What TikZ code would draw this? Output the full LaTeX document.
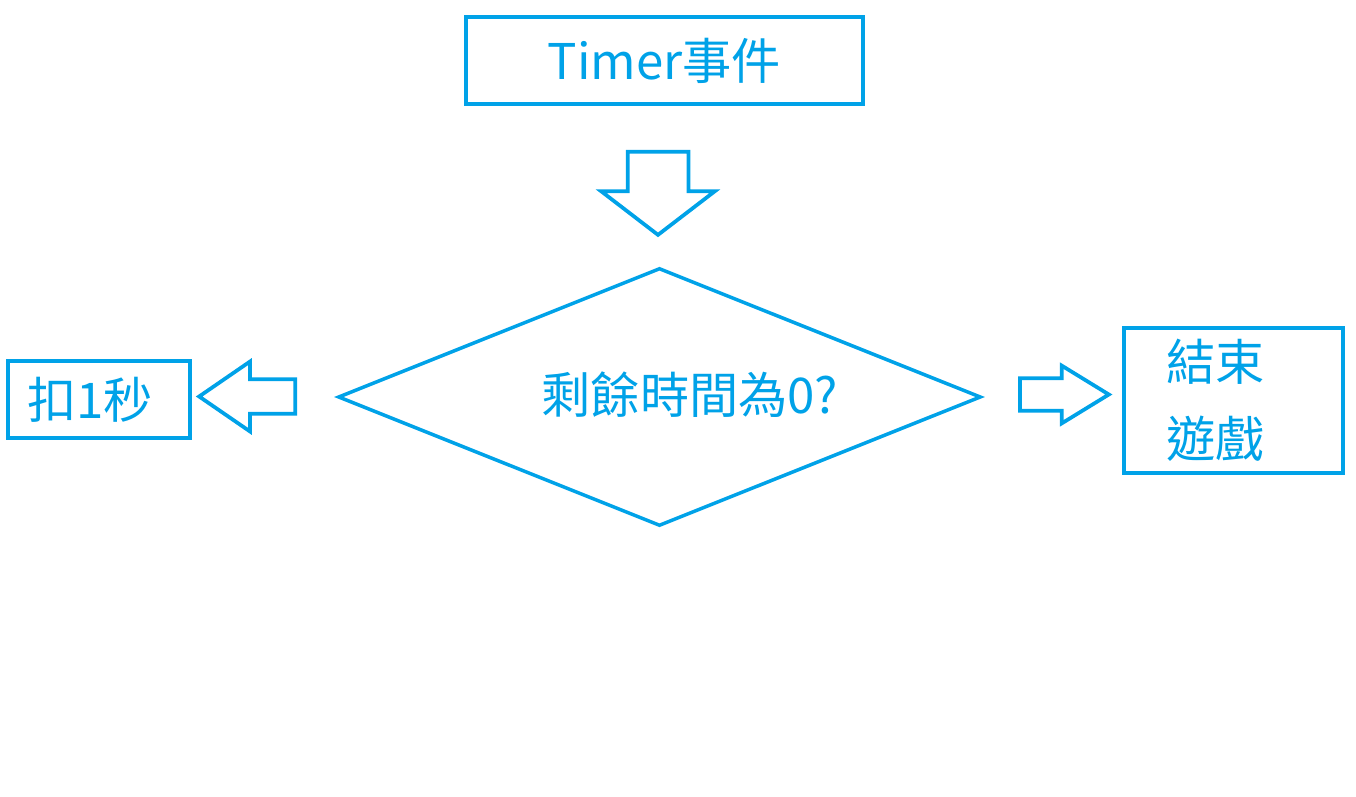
\documentclass[tikz,border=0pt]{standalone}
\usepackage{fontspec}
\setmainfont{Noto Sans CJK TC}
\usetikzlibrary{shapes.geometric,shapes.arrows}
\definecolor{flowblue}{HTML}{00A2E8}
\begin{document}
\begin{tikzpicture}[x=0.02cm,y=-0.02cm,
  every node/.style={text=flowblue,font=\fontsize{28pt}{43.7pt}\selectfont},
  box/.style={draw=flowblue,line width=0.08cm,inner ysep=0pt},
  blk/.style={draw=flowblue,line width=0.075cm,single arrow,inner xsep=0pt,anchor=tail}]
\useasboundingbox (0,0) rectangle (1356,797);

\node [box,minimum width=7.94cm,minimum height=1.74cm] (t0) at (664.5,60.5) {Timer事件};

\node [blk,rotate=-90,inner ysep=0.57cm,single arrow head extend=0.53cm,
  single arrow tip angle=105,minimum height=1.66cm] (a0) at (658,150) {};

\node [diamond,draw=flowblue,line width=0.07cm,minimum width=12.86cm,minimum height=5.16cm] (dec) at (659.5,397) {};
\node [] (dect) at (690,395) {剩餘時間為0?};

\node [blk,rotate=180,inner ysep=0.31cm,single arrow head extend=0.35cm,
  single arrow tip angle=69,minimum height=1.92cm] (a1) at (297,396.5) {};

\node [box,minimum height=1.54cm,text width=2.88cm,inner xsep=0.38cm,align=left] (n0) at (99,399.5) {扣1秒};

\node [blk,inner ysep=0.29cm,single arrow head extend=0.25cm,
  single arrow tip angle=63,minimum height=1.78cm] (a2) at (1018,394.5) {};

\node [box,minimum height=2.9cm,text width=2.7cm,inner xsep=0.84cm,align=left] (n1) at (1233.5,400.5) {結束\\遊戲};

\end{tikzpicture}
\end{document}
